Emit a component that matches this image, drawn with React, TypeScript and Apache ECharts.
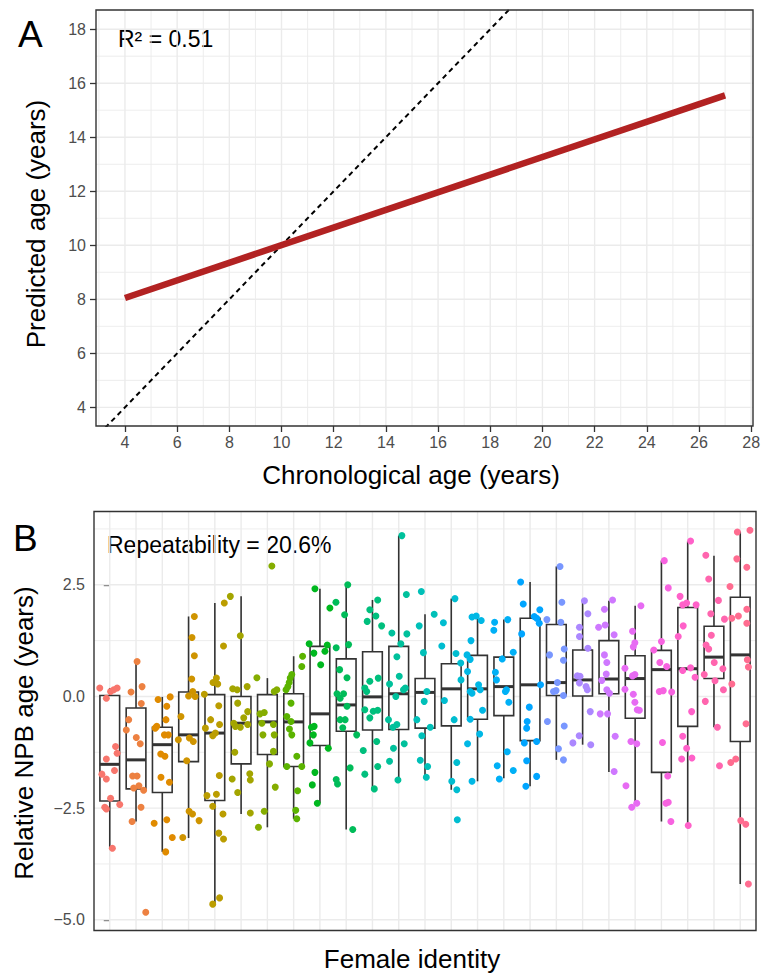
import React, { useEffect, useRef } from "react";
import * as echarts from "echarts";

// ---------- Panel A data ----------
const ageTicks = [4, 6, 8, 10, 12, 14, 16, 18, 20, 22, 24, 26, 28];
const ageMinorTicks = [3, 5, 7, 9, 11, 13, 15, 17, 19, 21, 23, 25, 27];
const predTicks = [4, 6, 8, 10, 12, 14, 16, 18];
const predMinorTicks = [5, 7, 9, 11, 13, 15, 17];
const fitLineX = [4, 27];
const fitLineY = [8.05, 15.55];
const identityLine = [3, 19];
const rSquaredLabel = "R\u00B2 = 0.51";

// ---------- Panel B data ----------
const npbTicks = [-5, -2.5, 0, 2.5];
const npbMinorTicks = [-3.75, -1.25, 1.25, 3.75];
const females = Array.from({ length: 25 }, (_, i) => `F${i + 1}`);
const whiskerLow = [-3.42, -2.8, -3.48, -3.17, -4.65, -2.63, -2.93, -2.74, -2.39, -2.98, -2.09, -1.87, -1.83, -2.09, -1.9, -1.83, -2.01, -1.42, -1.08, -1.69, -2.43, -2.8, -2.91, -0.69, -4.2];
const quart1 = [-2.34, -2.07, -2.15, -1.46, -2.33, -1.51, -1.3, -1.57, -1.1, -0.78, -0.75, -0.74, -0.71, -0.66, -0.51, -0.43, -0.99, 0.02, 0.01, 0.06, -0.49, -1.7, -0.67, 0.4, -1.01];
const medians = [-1.52, -1.42, -1.08, -0.86, -0.82, -0.6, -0.57, -0.57, -0.39, -0.19, -0.01, 0.06, 0.09, 0.17, 0.17, 0.22, 0.26, 0.31, 0.37, 0.39, 0.4, 0.6, 0.62, 0.88, 0.93];
const quart3 = [0.02, -0.26, -0.69, 0.1, 0.04, 0.0, 0.04, 0.06, 1.12, 0.84, 1.0, 1.12, 0.4, 0.73, 0.92, 0.88, 1.75, 1.61, 1.04, 1.25, 0.91, 1.03, 1.99, 1.57, 2.22];
const whiskerHigh = [0.19, 0.78, -0.01, 1.79, 2.09, 2.24, 0.41, 0.9, 2.41, 2.5, 2.16, 3.6, 1.84, 2.19, 1.79, 1.72, 2.56, 2.91, 2.13, 2.14, 2.03, 3.04, 3.47, 3.15, 3.69];
// jittered points per female: [horizontal jitter offset, relative NPB age]
const pointsByFemale: number[][][] = [
  [[-0.38, 0.19], [-0.13, -0.04], [0.03, 0.11], [0.15, 0.15], [0.28, 0.19], [0.22, -1.12], [-0.13, -1.4], [0.28, -1.27], [-0.3, -1.74], [-0.13, -1.85], [0.18, -1.66], [0.03, -2.28], [-0.19, -2.48], [-0.13, -2.52], [0.38, -2.42], [0.1, -3.4]],
  [[0.04, 0.78], [-0.19, 0.1], [0.23, 0.22], [0.2, -0.16], [-0.28, -0.52], [-0.37, -0.75], [0.01, -0.92], [0.16, -1.06], [-0.13, -1.78], [0.04, -1.78], [-0.09, -2.05], [0.11, -2.0], [0.29, -2.1], [0.19, -2.48], [-0.15, -2.8], [0.37, -4.83]],
  [[-0.16, -0.07], [0.17, -0.22], [0.3, -0.01], [0.14, -0.52], [-0.27, -0.71], [-0.21, -0.67], [0.08, -0.86], [0.23, -0.86], [-0.06, -1.29], [0.1, -1.34], [-0.05, -1.81], [0.27, -1.92], [0.17, -2.76], [-0.31, -2.84], [0.38, -3.16], [0.13, -3.48]],
  [[0.22, 1.79], [0.13, 1.32], [0.22, 0.91], [0.12, 0.39], [0.16, 0.11], [0, 0.01], [0.25, 0.0], [-0.29, -0.45], [-0.39, -0.97], [0.03, -0.93], [0.18, -1.01], [-0.07, -1.44], [0.02, -2.57], [0.15, -2.63], [0.4, -2.78], [-0.22, -3.16]],
  [[0.36, 2.09], [0.33, 1.13], [0.06, 0.41], [-0.07, 0.31], [0.11, 0.28], [-0.4, 0.05], [0.15, -0.21], [-0.16, -0.52], [0.18, -0.63], [-0.36, -0.71], [-0.08, -0.88], [0.02, -0.82], [-0.3, -2.22], [0.06, -2.19], [0.17, -1.77], [-0.08, -2.46], [0.31, -2.63], [0.15, -3.06], [0.33, -3.19], [-0.08, -4.65], [0.18, -4.51]],
  [[-0.41, 2.24], [-0.03, 1.36], [0.23, 0.22], [-0.32, 0.17], [-0.15, 0.15], [-0.13, -0.15], [0.25, -0.34], [0.1, -0.48], [-0.28, -0.6], [-0.03, -0.69], [-0.22, -0.67], [0.25, -0.63], [-0.24, -1.25], [0.33, -1.73], [0.35, -1.87], [-0.34, -1.85], [-0.13, -2.15], [0.35, -2.61]],
  [[0.17, 2.92], [-0.4, 0.42], [0.26, 0.11], [0.36, 0.15], [-0.28, -0.39], [-0.12, -0.36], [-0.21, -0.6], [0.23, -0.63], [-0.17, -0.86], [0.26, -0.86], [0.23, -1.23], [0.08, -1.51], [0.3, -2.03], [-0.12, -2.57], [-0.34, -2.93]],
  [[0.34, 0.9], [0.31, 0.67], [-0.07, 0.49], [-0.13, 0.41], [-0.17, 0.31], [-0.22, 0.22], [-0.29, 0.15], [-0.1, -0.15], [-0.26, -0.45], [-0.1, -0.56], [-0.16, -0.73], [-0.07, -0.86], [0.12, -1.34], [0.31, -1.57], [-0.26, -1.57], [0.15, -2.11], [0.08, -2.55], [0.12, -2.74]],
  [[-0.19, 2.41], [0.38, 1.98], [-0.41, 1.18], [-0.23, 0.97], [0.19, 1.01], [0.28, 1.15], [0.03, 0.71], [-0.32, -0.69], [-0.25, -0.86], [-0.22, -0.67], [-0.38, -1.04], [0.32, -1.16], [-0.19, -1.7], [-0.29, -1.98], [-0.1, -2.39]],
  [[0.06, 2.5], [-0.39, 2.11], [-0.06, 1.83], [0.09, 1.16], [-0.38, 1.09], [-0.25, 0.6], [0.03, 0.42], [-0.35, 0.06], [-0.1, 0.06], [-0.23, -0.04], [0.03, -0.22], [-0.04, -0.52], [-0.23, -0.52], [-0.13, -0.7], [0.4, -0.86], [0.15, -1.6], [-0.38, -1.86], [-0.33, -1.96], [0.25, -2.98]],
  [[0.2, 2.16], [-0.1, 1.94], [0.13, 1.8], [-0.2, 1.68], [0.35, 1.58], [-0.29, 0.19], [-0.22, 0.11], [0.22, 0.41], [-0.1, 0.34], [-0.29, -0.3], [0.03, -0.33], [0.2, -0.31], [-0.1, -0.48], [-0.35, -1.21], [0.16, -1.01], [-0.29, -1.74], [0.2, -1.57], [0.07, -2.07]],
  [[0.12, 3.6], [0.29, 2.28], [-0.26, 1.42], [0.31, 1.4], [0.08, 1.18], [-0.07, 0.89], [0.02, 0.45], [-0.35, 0.28], [0.18, 0.15], [0.25, 0.19], [-0.11, 0.0], [-0.39, -0.52], [-0.07, -0.63], [-0.22, -0.69], [-0.35, -1.45], [-0.2, -1.16], [0.21, -1.06], [-0.03, -1.87]],
  [[-0.14, 2.35], [-0.22, 1.58], [0.35, 1.84], [-0.06, 0.98], [0.07, 0.11], [-0.03, -0.11], [0.2, -0.69], [-0.31, -0.52], [-0.12, -0.88], [-0.18, -1.43], [0.1, -1.57], [0.05, -1.81]],
  [[0.14, 2.19], [-0.3, 1.65], [-0.36, 1.13], [0.18, 0.96], [0.36, 0.75], [0.37, 0.37], [-0.26, -0.09], [0.11, -0.52], [0.21, -1.48], [0.02, -1.9], [0.21, -2.09], [0.23, -2.76]],
  [[-0.21, 1.78], [-0.05, 1.8], [0.14, 1.7], [-0.25, 1.25], [-0.4, 0.93], [-0.28, 0.83], [-0.38, 0.56], [0.04, 0.26], [-0.28, 0.11], [-0.21, 0.07], [0.1, 0.15], [0.19, -0.31], [-0.28, -0.51], [0.08, -0.84], [-0.38, -1.06], [-0.21, -1.9]],
  [[0.15, 1.72], [-0.35, 1.66], [-0.38, 1.48], [0.36, 0.99], [-0.06, 0.84], [0.1, 0.15], [0.06, 0.11], [0.19, -0.13], [-0.32, 0.54], [-0.28, 0.37], [0.13, -1.24], [0.36, -1.66], [-0.25, -1.55], [-0.17, -1.85]],
  [[-0.36, 2.56], [-0.26, 2.07], [0.37, 1.94], [0.16, 1.79], [0.25, 1.75], [0.35, 1.64], [-0.32, 1.4], [0.4, 0.26], [-0.03, -0.24], [-0.11, -0.56], [-0.13, -0.71], [-0.22, -1.04], [0.25, -1.01], [-0.13, -1.44], [0.25, -1.79], [-0.16, -2.01]],
  [[0.14, 2.91], [0.21, 2.11], [-0.36, 1.72], [0.17, 1.66], [-0.26, 0.93], [0.3, 1.06], [0.27, 0.81], [0.04, 0.31], [-0.11, 0.11], [-0.01, 0.13], [0.27, 0.02], [-0.34, -0.56], [0.3, -0.66], [0.08, -1.17], [0.27, -1.42]],
  [[0.07, 2.14], [0.2, 1.85], [-0.12, 1.55], [-0.12, 1.34], [0.2, 1.08], [-0.2, 0.46], [-0.1, 0.45], [0.13, 0.22], [0.18, 0.15], [-0.12, 0.3], [0.29, -0.34], [-0.13, -0.88], [-0.37, -1.04], [0.31, -1.08]],
  [[0.14, 2.16], [-0.17, 1.95], [-0.14, 1.6], [-0.39, 1.55], [0.2, 1.38], [-0.17, 0.93], [-0.08, 0.76], [-0.1, 0.5], [-0.27, 0.36], [-0.08, 0.15], [0.02, 0.07], [-0.33, -0.39], [-0.05, -0.39], [0.24, -0.89], [0.2, -1.68]],
  [[0.22, 2.03], [-0.1, 1.46], [-0.01, 1.2], [-0.07, 1.11], [-0.39, 0.63], [-0.1, 0.46], [-0.01, 0.49], [-0.39, 0.16], [-0.07, 0.05], [-0.01, -0.13], [0.08, -0.3], [0.16, -0.31], [-0.16, -1.01], [0.06, -1.06], [-0.35, -2.0], [0.06, -2.39], [-0.13, -2.48]],
  [[0.11, 3.04], [0.26, 2.43], [-0.29, 1.04], [-0.06, 0.76], [0.2, 0.67], [0, 1.23], [-0.08, 0.11], [0.07, 0.13], [0.39, 0.1], [0.04, -1.03], [0.24, -1.78], [0.17, -2.39], [0.26, -2.37], [0.36, -2.8]],
  [[0.11, 3.48], [-0.29, 2.24], [-0.19, 2.05], [-0.04, 2.09], [0.32, 2.05], [-0.17, 1.58], [-0.36, 1.34], [-0.19, 0.58], [0.11, 0.64], [0.28, 0.43], [0.15, -0.34], [-0.19, -0.89], [-0.04, -1.16], [-0.23, -1.4], [0.16, -1.38], [0.02, -2.89]],
  [[-0.31, 3.16], [-0.2, 2.63], [0.17, 2.15], [-0.12, 1.85], [0.4, 1.73], [-0.3, 1.15], [-0.2, 1.06], [-0.1, 1.37], [0.01, 0.76], [0.34, 0.62], [-0.37, 0.49], [0.04, 0.35], [0.36, 0.15], [-0.33, -0.11], [0.13, -0.69], [0.21, -1.55]],
  [[-0.11, 3.68], [0.37, 3.72], [-0.13, 3.08], [0.25, 2.89], [-0.39, 2.46], [-0.32, 1.75], [-0.07, 1.8], [0.25, 1.95], [0.25, 1.64], [0.27, 0.82], [0.31, 0.66], [-0.32, 0.28], [0.22, -0.61], [-0.36, -1.48], [-0.17, -1.4], [0.02, -2.78], [0.21, -2.86], [0.31, -4.2]],
];
const repeatabilityLabel = "Repeatability = 20.6%";

// ---------- styling helpers ----------
const FONT = "'Liberation Sans', Arial, Helvetica, sans-serif";
const GRID_COLOR = "#EBEBEB";
const BORDER = "#333333";
const TICK_TEXT = "#4D4D4D";

// ggplot-like hue palette (HCL, c=100, l=65)
function hcl(h: number, c: number, l: number): string {
  const hr = (h * Math.PI) / 180;
  const U = c * Math.cos(hr);
  const V = c * Math.sin(hr);
  const Xn = 95.047, Yn = 100, Zn = 108.883;
  const Y = Yn * (l > 8 ? Math.pow((l + 16) / 116, 3) : l / 903.3);
  const t = Xn + 15 * Yn + 3 * Zn;
  const u0 = (4 * Xn) / t, v0 = (9 * Yn) / t;
  const u = U / (13 * l) + u0;
  const v = V / (13 * l) + v0;
  const X = (9 * Y * u) / (4 * v);
  const Z = -X / 3 - 5 * Y + (3 * Y) / v;
  const x = X / 100, y = Y / 100, z = Z / 100;
  const lin = [
    3.240479 * x - 1.53715 * y - 0.498535 * z,
    -0.969256 * x + 1.875992 * y + 0.041556 * z,
    0.055648 * x - 0.204043 * y + 1.057311 * z,
  ];
  const rgb = lin.map((cc) => {
    const g = cc <= 0.0031308 ? 12.92 * cc : 1.055 * Math.pow(cc, 1 / 2.4) - 0.055;
    return Math.round(Math.max(0, Math.min(1, g)) * 255);
  });
  return "#" + rgb.map((n) => n.toString(16).padStart(2, "0")).join("");
}
const femaleColors = females.map((_, i) => hcl(15 + (360 * i) / females.length, 100, 65));

function gridLines(
  values: number[],
  vertical: boolean,
  width: number,
  axisIdx: number,
  ref: number
) {
  return {
    type: "custom",
    xAxisIndex: axisIdx,
    yAxisIndex: axisIdx,
    silent: true,
    z: 1,
    data: values.map((v) => (vertical ? [v, ref] : [ref, v])),
    renderItem: (params: any, api: any) => {
      const cs = params.coordSys;
      if (vertical) {
        const x = api.coord([api.value(0), api.value(1)])[0];
        return {
          type: "line",
          shape: { x1: x, y1: cs.y, x2: x, y2: cs.y + cs.height },
          style: { stroke: GRID_COLOR, lineWidth: width },
        };
      }
      const y = api.coord([api.value(0), api.value(1)])[1];
      return {
        type: "line",
        shape: { x1: cs.x, y1: y, x2: cs.x + cs.width, y2: y },
        style: { stroke: GRID_COLOR, lineWidth: width },
      };
    },
  };
}

function textEl(text: string, x: number, y: number, size: number, opts: any = {}) {
  return {
    type: "text",
    x,
    y,
    rotation: opts.rotation || 0,
    style: {
      text,
      fontSize: size,
      fontFamily: FONT,
      fill: "#000",
      align: opts.align || "left",
      verticalAlign: "middle",
    },
  };
}

export default function App() {
  const ref = useRef<HTMLDivElement>(null);
  useEffect(() => {
    if (!ref.current) return;
    const chart = echarts.init(ref.current, undefined, { renderer: "svg" });

    const boxData = females.map((_, i) => [i, whiskerLow[i], quart1[i], medians[i], quart3[i], whiskerHigh[i]]);
    const tickStyle = { color: BORDER, width: 1.3 };
    const labelBase = { color: TICK_TEXT, fontSize: 16, fontFamily: FONT };

    const option: any = {
      animation: false,
      backgroundColor: "#ffffff",
      grid: [
        { left: 96, top: 10, width: 657, height: 416, show: true, borderColor: BORDER, borderWidth: 1.4, backgroundColor: "transparent", z: 5 },
        { left: 94, top: 511.5, width: 662, height: 419, show: true, borderColor: BORDER, borderWidth: 1.4, backgroundColor: "transparent", z: 5 },
      ],
      xAxis: [
        {
          gridIndex: 0,
          type: "value",
          min: 2.89,
          max: 28.07,
          axisLine: { show: false },
          splitLine: { show: false },
          axisTick: { show: true, customValues: ageTicks, length: 6, lineStyle: tickStyle },
          axisLabel: { ...labelBase, customValues: ageTicks, margin: 8 },
        },
        {
          gridIndex: 1,
          type: "value",
          min: -0.6,
          max: females.length - 0.4,
          axisLine: { show: false },
          splitLine: { show: false },
          axisTick: { show: false },
          axisLabel: { show: false },
        },
      ],
      yAxis: [
        {
          gridIndex: 0,
          type: "value",
          min: 3.31,
          max: 18.71,
          axisLine: { show: false },
          splitLine: { show: false },
          axisTick: { show: true, customValues: predTicks, length: 6, lineStyle: tickStyle },
          axisLabel: { ...labelBase, customValues: predTicks, margin: 10 },
        },
        {
          gridIndex: 1,
          type: "value",
          min: -5.24,
          max: 4.14,
          axisLine: { show: false },
          splitLine: { show: false },
          axisTick: { show: true, customValues: npbTicks, length: 6, lineStyle: tickStyle },
          axisLabel: {
            ...labelBase,
            customValues: npbTicks,
            margin: 9,
            formatter: (v: number) => (v < 0 ? "\u2212" : "") + Math.abs(v).toFixed(1),
          },
        },
      ],
      graphic: [
        textEl("A", 18, 34, 37),
        textEl(rSquaredLabel, 118, 38.5, 23),
        textEl("Chronological age (years)", 411, 475, 26, { align: "center" }),
        textEl("Predicted age (years)", 36, 224, 26, { align: "center", rotation: Math.PI / 2 }),
        textEl("B", 13, 538, 37),
        textEl(repeatabilityLabel, 107, 545, 23),
        textEl("Female identity", 412, 959, 26, { align: "center" }),
        textEl("Relative NPB age (years)", 24, 733, 26, { align: "center", rotation: Math.PI / 2 }),
      ],
      series: [
        // Panel A grid
        gridLines(ageMinorTicks, true, 0.9, 0, 10),
        gridLines(ageTicks, true, 1.4, 0, 10),
        gridLines(predMinorTicks, false, 0.9, 0, 10),
        gridLines(predTicks, false, 1.4, 0, 10),
        // Panel B grid
        gridLines(npbMinorTicks, false, 0.9, 1, 0),
        gridLines(npbTicks, false, 1.4, 1, 0),
        gridLines(females.map((_, i) => i), true, 1.4, 1, 0),
        // identity line
        {
          type: "line",
          xAxisIndex: 0,
          yAxisIndex: 0,
          data: identityLine.map((v) => [v, v]),
          showSymbol: false,
          clip: true,
          z: 3,
          lineStyle: { color: "#000", width: 2, type: [5, 4] },
          silent: true,
        },
        // fitted line
        {
          type: "line",
          xAxisIndex: 0,
          yAxisIndex: 0,
          data: fitLineX.map((x, i) => [x, fitLineY[i]]),
          showSymbol: false,
          clip: true,
          z: 4,
          lineStyle: { color: "#B22222", width: 6.5, cap: "butt" },
          silent: true,
        },
        // boxes
        {
          type: "custom",
          xAxisIndex: 1,
          yAxisIndex: 1,
          z: 2,
          silent: true,
          data: boxData,
          encode: { x: 0, y: [1, 2, 3, 4, 5] },
          renderItem: (params: any, api: any) => {
            const i = api.value(0);
            const pLow = api.coord([i, api.value(1)]);
            const pQ1 = api.coord([i, api.value(2)]);
            const pMed = api.coord([i, api.value(3)]);
            const pQ3 = api.coord([i, api.value(4)]);
            const pHigh = api.coord([i, api.value(5)]);
            const w = api.size([0.75, 0])[0];
            const cx = pMed[0];
            const lineStyle = { stroke: BORDER, lineWidth: 1.6 };
            return {
              type: "group",
              children: [
                { type: "line", shape: { x1: cx, y1: pQ3[1], x2: cx, y2: pHigh[1] }, style: lineStyle },
                { type: "line", shape: { x1: cx, y1: pQ1[1], x2: cx, y2: pLow[1] }, style: lineStyle },
                {
                  type: "rect",
                  shape: { x: cx - w / 2, y: pQ3[1], width: w, height: pQ1[1] - pQ3[1] },
                  style: { fill: "#ffffff", stroke: BORDER, lineWidth: 1.6 },
                },
                {
                  type: "line",
                  shape: { x1: cx - w / 2, y1: pMed[1], x2: cx + w / 2, y2: pMed[1] },
                  style: { stroke: BORDER, lineWidth: 3 },
                },
              ],
            };
          },
        },
        // jittered points
        ...pointsByFemale.map((pts, i) => ({
          type: "scatter",
          xAxisIndex: 1,
          yAxisIndex: 1,
          z: 3,
          silent: true,
          symbol: "circle",
          symbolSize: 7,
          itemStyle: { color: femaleColors[i], opacity: 1 },
          data: pts.map(([dx, v]) => [i + dx, v]),
        })),
      ],
    };
    chart.setOption(option);
    return () => chart.dispose();
  }, []);
  return (
    <div
      ref={ref}
      style={{ position: "fixed", left: 0, top: 0, width: 764, height: 977, background: "#fff" }}
    />
  );
}
